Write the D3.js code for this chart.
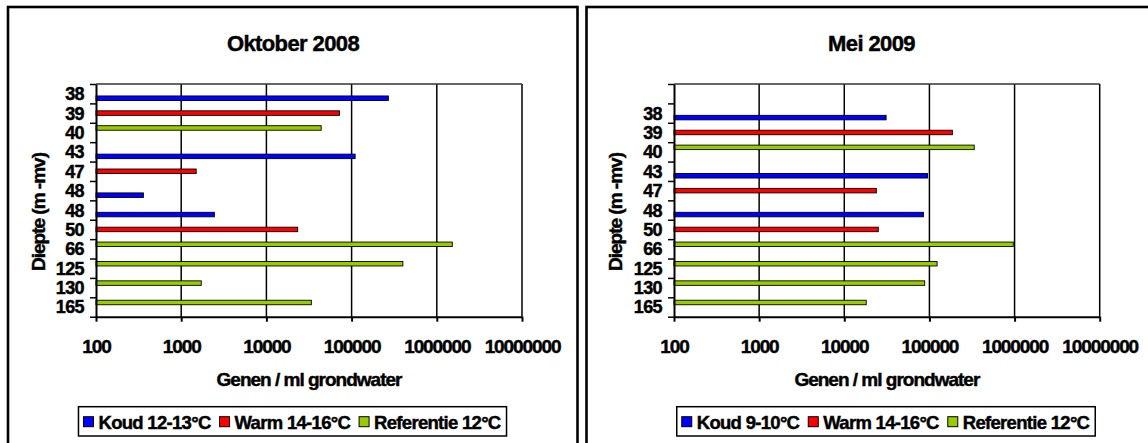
<!DOCTYPE html>
<html><head><meta charset="utf-8">
<script src="https://cdn.jsdelivr.net/npm/d3@7"></script>
<style>
body{margin:0;background:#fff}
svg text{font-family:"Liberation Sans",Arial,sans-serif;font-weight:bold;fill:#000;stroke:#000;stroke-width:0.45px}
</style>
</head><body><svg id="c" width="1148" height="443"></svg>
<script>
// ---------- DATA ----------
const xTickValues = [100, 1000, 10000, 100000, 1000000, 10000000];

const titleOkt = "Oktober 2008";
const categoriesOkt = ["38","39","40","43","47","48","48","50","66","125","130","165"];
const koudOkt = [270000, null, null, 110000, null, 360, 2450, null, null, null, null, null];
const warmOkt = [null, 72000, null, null, 1500, null, null, 23300, null, null, null, null];
const refOkt  = [null, null, 44000, null, null, null, null, null, 1520000, 400000, 1720, 33700];
const legendOkt = ["Koud 12-13°C", "Warm 14-16°C", "Referentie 12°C"];

const titleMei = "Mei 2009";
const categoriesMei = ["","38","39","40","43","47","48","50","66","125","130","165"];
const koudMei = [null, 31000, null, null, 95000, null, 85000, null, null, null, null, null];
const warmMei = [null, null, 186000, null, null, 23800, null, 25100, null, null, null, null];
const refMei  = [null, null, null, 336000, null, null, null, null, 966000, 123000, 88000, 18100];
const legendMei = ["Koud 9-10°C", "Warm 14-16°C", "Referentie 12°C"];

const xAxisTitle = "Genen / ml grondwater";
const yAxisTitle = "Diepte (m -mv)";
const seriesKeys = ["koud", "warm", "ref"];
const seriesColors = {koud: "#0000FF", warm: "#FF0000", ref: "#99CC00"};

// ---------- DRAW ----------
const svg = d3.select("#c");

function drawPanel(o) {
  const g = svg.append("g");
  g.append("rect").attr("x", o.px).attr("y", 7).attr("width", o.pw).attr("height", 470)
    .attr("fill", "none").attr("stroke", "#000").attr("stroke-width", 2.6);

  const top = 84, bottom = 316.7;
  const x = d3.scaleLog().domain([100, 1e7]).range([o.x0, o.x1]);
  const n = o.cats.length;
  const y = d3.scaleBand().domain(d3.range(n)).range([top, bottom]);
  const yb = d3.scaleLinear().domain([0, n]).range([top, bottom]);
  const sub = d3.scaleBand().domain(["ref", "warm", "koud"]).range([0, y.bandwidth()]).paddingOuter(0.65);

  // gridlines
  g.selectAll(".grid").data(xTickValues.slice(1)).enter().append("line")
    .attr("x1", d => x(d)).attr("x2", d => x(d)).attr("y1", top).attr("y2", bottom)
    .attr("stroke", "#000").attr("stroke-width", 1.5);
  // plot border top
  g.append("line").attr("x1", o.x0).attr("x2", o.x1).attr("y1", top).attr("y2", top)
    .attr("stroke", "#333").attr("stroke-width", 1.5);

  // bars
  const rows = [];
  o.cats.forEach((c, i) => {
    seriesKeys.forEach(k => {
      const v = o.series[k][i];
      if (v != null) rows.push({i, k, v});
    });
  });
  g.selectAll(".bar").data(rows).enter().append("rect")
    .attr("x", x(100))
    .attr("y", d => y(d.i) + sub(d.k))
    .attr("width", d => x(d.v) - x(100))
    .attr("height", sub.bandwidth())
    .attr("fill", d => seriesColors[d.k])
    .attr("stroke", "#000").attr("stroke-width", 0.9);

  // x axis
  const xa = g.append("g").attr("transform", `translate(0,${bottom})`)
    .call(d3.axisBottom(x).tickValues(xTickValues).tickFormat(d3.format("d")).tickSize(5).tickSizeOuter(0));
  xa.select(".domain").attr("stroke", "#000").attr("stroke-width", 2);
  xa.selectAll(".tick line").attr("stroke", "#000").attr("stroke-width", 2);
  xa.selectAll("text").attr("y", 36).attr("dy", 0).attr("font-size", 19)
    .attr("letter-spacing", "-1.1px").attr("font-family", null);

  // y axis (ticks at band boundaries)
  const ya = g.append("g").attr("transform", `translate(${o.x0},0)`)
    .call(d3.axisLeft(yb).tickValues(d3.range(n + 1)).tickFormat("").tickSize(6).tickSizeOuter(0));
  ya.select(".domain").attr("stroke", "#000").attr("stroke-width", 2);
  ya.selectAll(".tick line").attr("stroke", "#000").attr("stroke-width", 1.5);
  g.selectAll(".ylab").data(o.cats).enter().append("text")
    .attr("x", o.x0 - 12).attr("y", (d, i) => y(i) + y.bandwidth() / 2)
    .attr("dy", "0.36em").attr("text-anchor", "end").attr("font-size", 18)
    .attr("letter-spacing", "-0.6px").text(d => d);

  // titles
  g.append("text").attr("x", o.titleCx).attr("y", 50.5).attr("text-anchor", "middle")
    .attr("font-size", 22).attr("letter-spacing", "-0.6px").text(o.title);
  g.append("text").attr("x", (o.x0 + o.x1) / 2).attr("y", 386).attr("text-anchor", "middle")
    .attr("font-size", 19).attr("letter-spacing", "-1px").text(xAxisTitle);
  g.append("text").attr("transform", `translate(${o.yTitleX},212) rotate(-90)`)
    .attr("text-anchor", "middle").attr("font-size", 19).attr("letter-spacing", "-1px").text(yAxisTitle);

  // legend
  const lg = g.append("g");
  const box = lg.append("rect").attr("y", 406.7).attr("height", 29.3)
    .attr("fill", "#fff").attr("stroke", "#000").attr("stroke-width", 1.5);
  let cx = 5;
  o.legend.forEach((lab, i) => {
    lg.append("rect").attr("x", cx).attr("y", 416.7).attr("width", 10).attr("height", 10)
      .attr("fill", seriesColors[seriesKeys[i]]).attr("stroke", "#000").attr("stroke-width", 1);
    const t = lg.append("text").attr("x", cx + 15).attr("y", 428.5).attr("font-size", 18.5)
      .attr("letter-spacing", "-0.7px").text(lab);
    const w = t.node().getComputedTextLength();
    cx += 15 + w + (i < o.legend.length - 1 ? 9 : 6);
  });
  box.attr("x", 0).attr("width", cx);
  lg.attr("transform", `translate(${o.legendCx - cx / 2},0)`);
}

drawPanel({px: 8, pw: 569.5, x0: 96, x1: 522, cats: categoriesOkt,
  series: {koud: koudOkt, warm: warmOkt, ref: refOkt}, title: titleOkt, titleCx: 293,
  yTitleX: 45, legend: legendOkt, legendCx: 292.5});
drawPanel({px: 586.5, pw: 570, x0: 674, x1: 1099.7, cats: categoriesMei,
  series: {koud: koudMei, warm: warmMei, ref: refMei}, title: titleMei, titleCx: 871.5,
  yTitleX: 621.5, legend: legendMei, legendCx: 886});
</script>
</body></html>
